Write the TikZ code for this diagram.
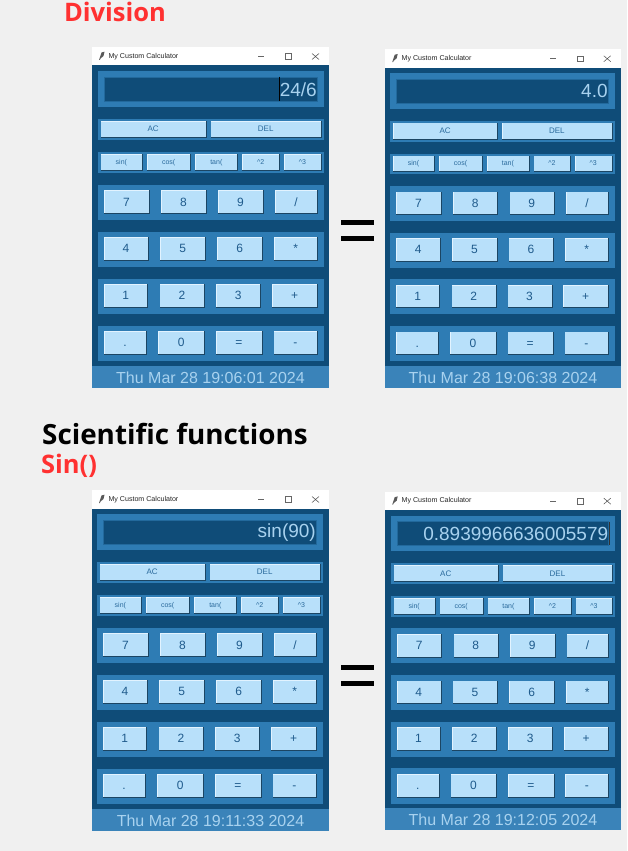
\documentclass[tikz,border=0pt]{standalone}
\usepackage{fontspec}
\setmainfont{Liberation Sans}
\newfontfamily\headfont{Open Sans}
\definecolor{pagegray}{HTML}{F0F0F0}
\definecolor{bodyblue}{HTML}{0F4C78}
\definecolor{frameblue}{HTML}{2E7CB4}
\definecolor{statusblue}{HTML}{3A83B9}
\definecolor{btnblue}{HTML}{B8E0FA}
\definecolor{btnshade}{HTML}{1B4563}
\definecolor{btnlight}{HTML}{E2F3FF}
\definecolor{btntext}{HTML}{2A6A9C}
\definecolor{numtext}{HTML}{1F5B8C}
\definecolor{disptext}{HTML}{A8D2EF}
\definecolor{headred}{HTML}{FF3131}

\tikzset{
	head_red/.style={font=\headfont\bfseries\fontsize{25.5}{28}\selectfont,text=headred,inner sep=0pt},
	head_black/.style={font=\headfont\bfseries\fontsize{27.8}{30}\selectfont,text=black,inner sep=0pt},
	title_text/.style={font=\fontsize{7.1}{8}\selectfont,text=black!85,inner sep=0pt,anchor=west},
	small_text/.style={font=\fontsize{7}{8}\selectfont,text=btntext,inner sep=0pt,text height=5pt,text depth=0pt},
	wide_text/.style={font=\fontsize{8}{9}\selectfont,text=btntext,inner sep=0pt,text height=5.8pt,text depth=0pt},
	num_text/.style={font=\fontsize{12}{13}\selectfont,text=numtext,inner sep=0pt,text height=8.6pt,text depth=0pt},
	disp_text/.style={font=\fontsize{19}{21}\selectfont,text=disptext,inner sep=0pt,anchor=east},
	status_text/.style={font=\fontsize{16}{17}\selectfont,text=disptext,inner sep=0pt}
}

% one raised button: name, x1, x2, y1, y2, label style, label
\newcommand{\calcbtn}[7]{
	\fill[btnshade] (#2,#4) rectangle (#3+1,#5+1);
	\fill[btnlight] (#2,#4) rectangle (#3,#5);
	\fill[btnblue] (#2+0.6,#4+0.6) rectangle (#3,#5);
	\node[#6] (#1) at ({(#2+#3)/2},{(#4+#5)/2}) {#7};
}

% one calculator window: name, left, top, xscale, yscale, content shift, display, status
\newcommand{\calcwin}[8]{
\begin{scope}[shift={(#2,#3)},xscale=#4,yscale=#5]
	\fill[white] (0,0) rectangle (237,18.5);
	\fill[bodyblue] (0,18.5) rectangle (237,341);
	\fill[statusblue] (0,319) rectangle (237,341);
	\fill[black!65] (7,13) -- (9.5,5.5) -- (12.5,4.7) -- (11.5,9) -- (8.5,11.5) -- (7.8,13) -- cycle;
	\node[title_text] (#1-title) at (16.3,9.5) {My Custom Calculator};
	\draw[black!60,line width=0.5pt] (166,9.5) -- (172,9.5);
	\draw[black!60,line width=0.5pt] (193,6.5) rectangle (199,12.5);
	\draw[black!70,line width=0.5pt] (220,6.5) -- (227,12.5) (220,12.5) -- (227,6.5);
	\begin{scope}[xshift=#6]
	% frames
	\fill[frameblue] (6,24) rectangle (232,60);
	\fill[frameblue] (6,72) rectangle (232,93);
	\fill[frameblue] (6,105) rectangle (232,126);
	\fill[frameblue] (6,137.5) rectangle (232,173);
	\fill[frameblue] (6,184.5) rectangle (232,220);
	\fill[frameblue] (6,231.5) rectangle (232,267);
	\fill[frameblue] (6,278.5) rectangle (232,314);
	% display
	\draw[fill=bodyblue,draw=frameblue!60!bodyblue,line width=0.5pt] (12,30) rectangle (225,54);
	\node[disp_text] (#1-display) at (225,42.3) {#7};
	% top rows
	\calcbtn{#1-ac}{8.7}{113.7}{74}{90}{wide_text}{AC}
	\calcbtn{#1-del}{118.7}{228.7}{74}{90}{wide_text}{DEL}
	\calcbtn{#1-sin}{8.7}{50}{107}{123}{small_text}{sin(}
	\calcbtn{#1-cos}{55}{98.3}{107}{123}{small_text}{cos(}
	\calcbtn{#1-tan}{103.3}{145.3}{107}{123}{small_text}{tan(}
	\calcbtn{#1-sq}{150.3}{187}{107}{123}{small_text}{\textasciicircum 2}
	\calcbtn{#1-cu}{192}{228.7}{107}{123}{small_text}{\textasciicircum 3}
	% number rows
	\calcbtn{#1-seven}{12}{56.7}{143.3}{166.3}{num_text}{7}
	\calcbtn{#1-eight}{69}{113.7}{143.3}{166.3}{num_text}{8}
	\calcbtn{#1-nine}{126}{170.7}{143.3}{166.3}{num_text}{9}
	\calcbtn{#1-div}{183}{225}{143.3}{166.3}{num_text}{/}
	\calcbtn{#1-four}{12}{56}{190.3}{213}{num_text}{4}
	\calcbtn{#1-five}{68.3}{113}{190.3}{213}{num_text}{5}
	\calcbtn{#1-six}{125.3}{170}{190.3}{213}{num_text}{6}
	\calcbtn{#1-mul}{182.3}{225}{190.3}{213}{num_text}{*}
	\calcbtn{#1-one}{12}{55.3}{237.3}{260}{num_text}{1}
	\calcbtn{#1-two}{67.7}{112}{237.3}{260}{num_text}{2}
	\calcbtn{#1-three}{124}{168.3}{237.3}{260}{num_text}{3}
	\calcbtn{#1-plus}{180.3}{225}{237.3}{260}{num_text}{+}
	\calcbtn{#1-dot}{12}{54}{284.3}{307}{num_text}{.}
	\calcbtn{#1-zero}{66.3}{112}{284.3}{307}{num_text}{0}
	\calcbtn{#1-eq}{124}{169.7}{284.3}{307}{num_text}{=}
	\calcbtn{#1-minus}{181.7}{225}{284.3}{307}{num_text}{-}
	\end{scope}
	\node[status_text] (#1-status) at (118.5,330.7) {#8};
\end{scope}
}

\begin{document}
\begin{tikzpicture}[x=1pt,y=-1pt]
	\fill[pagegray] (0,0) rectangle (627,851);
	\useasboundingbox (0,0) rectangle (627,851);

	\node[head_red] (division) at (115,12) {Division};
	\node[head_black] (scientific) at (175,434) {Scientific functions};
	\node[head_red] (sine) at (69,466) {Sin()};

	\calcwin{divinput}{92}{47}{1}{1}{0}{24/6}{Thu Mar 28 19:06:01 2024}
	\calcwin{divresult}{385.3}{49.3}{0.993}{0.993}{-0.9}{4.0}{Thu Mar 28 19:06:38 2024}
	\calcwin{sininput}{92}{490}{1}{1}{-1}{sin(90)}{Thu Mar 28 19:11:33 2024}
	\calcwin{sinresult}{385.3}{491.7}{0.993}{0.993}{-0.3}{0.8939966636005579}{Thu Mar 28 19:12:05 2024}

	% text cursors
	\draw[black,line width=0.7pt] (279.7,76.7) -- (279.7,100.5);
	\draw[black!80,line width=0.7pt] (609.3,521.5) -- (609.3,545);

	\fill[black] (341,220) rectangle (373.5,225);
	\fill[black] (341,236) rectangle (373.5,241);
	\fill[black] (341,665) rectangle (373.5,670);
	\fill[black] (341,681) rectangle (373.5,686);
\end{tikzpicture}
\end{document}
